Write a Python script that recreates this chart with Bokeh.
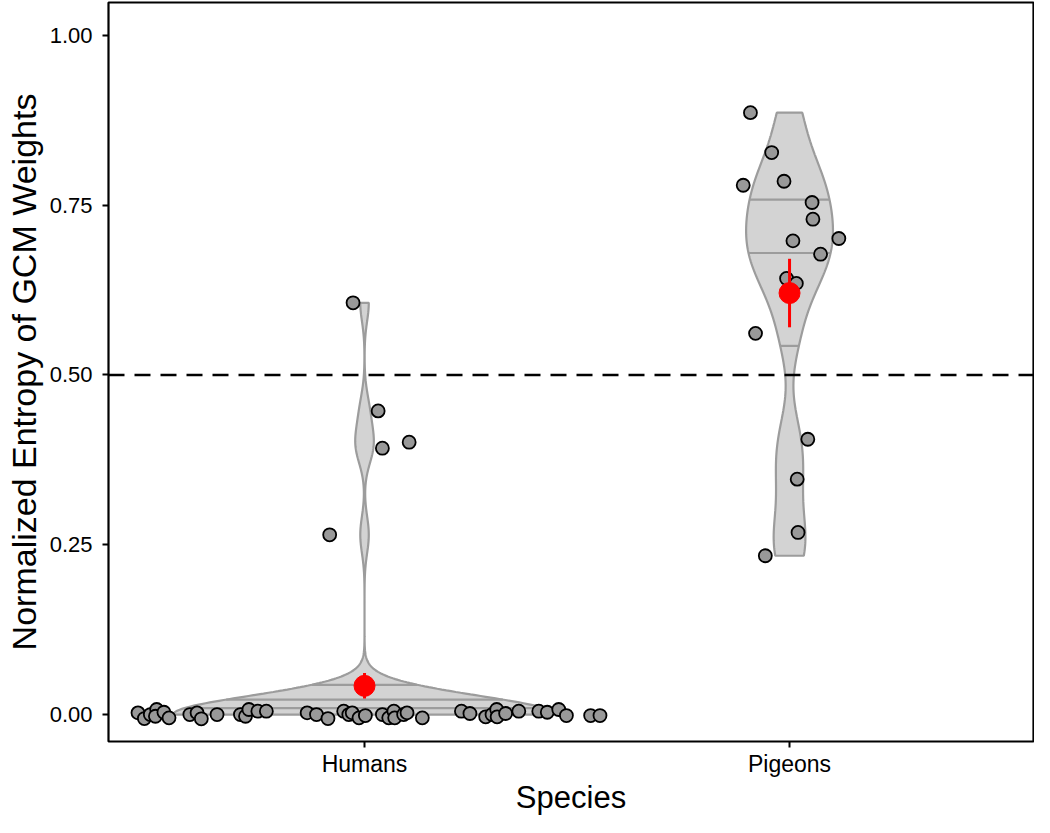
import numpy as np
from bokeh.plotting import figure
from bokeh.models import Range1d, FixedTicker, Span
from bokeh.embed import file_html
from bokeh.resources import INLINE

# ---------------- data ----------------
species = ["Humans", "Pigeons"]

human_values = [0.6063, 0.4471, 0.3922, 0.4010, 0.2647,
                0.0, 0.0, 0.0, 0.0, 0.0, 0.0, 0.0, 0.0, 0.0, 0.0,
                0.0, 0.0, 0.0, 0.0, 0.0, 0.0, 0.0, 0.0, 0.0, 0.0,
                0.0, 0.0, 0.0, 0.0, 0.0, 0.0, 0.0, 0.0, 0.0, 0.0,
                0.0, 0.0, 0.0, 0.0, 0.0, 0.0, 0.0, 0.0, 0.0, 0.0,
                0.0, 0.0, 0.0, 0.0, 0.0]
human_jitter_x = [-0.027, 0.032, 0.042, 0.105, -0.082,
                  -0.533, -0.518, -0.504, -0.489, -0.492, -0.472, -0.460, -0.411, -0.394, -0.384,
                  -0.347, -0.292, -0.280, -0.272, -0.251, -0.231, -0.135, -0.113, -0.086, -0.049,
                  -0.037, -0.029, -0.013, 0.002, 0.042, 0.057, 0.069, 0.071, 0.092, 0.100,
                  0.136, 0.228, 0.248, 0.285, 0.300, 0.311, 0.312, 0.332, 0.363, 0.410,
                  0.430, 0.457, 0.475, 0.532, 0.554]
human_jitter_y = [0.0, 0.0, 0.0, 0.0, 0.0,
                  0.0025, -0.0059, 0.0, 0.0074, -0.0025, 0.0034, -0.0049, 0.0, 0.0025, -0.0063,
                  0.0, 0.0, -0.0025, 0.0074, 0.0049, 0.0049, 0.0025, 0.0, -0.0059, 0.0049,
                  0.0, 0.0025, -0.0049, -0.0015, 0.0, -0.0049, 0.0049, -0.0049, 0.0, 0.0025,
                  -0.0049, 0.0049, 0.0015, -0.0034, 0.0, 0.0074, -0.0034, 0.0015, 0.0049, 0.0049,
                  0.0034, 0.0074, -0.0015, -0.0015, -0.0015]

pigeon_values = [0.8863, 0.8275, 0.7794, 0.7853, 0.7540, 0.7294, 0.6975, 0.7010,
                 0.6779, 0.6422, 0.6349, 0.5613, 0.4054, 0.3466, 0.2681, 0.2338]
pigeon_jitter_x = [-0.092, -0.042, -0.109, -0.013, 0.053, 0.055, 0.008, 0.116,
                   0.073, -0.007, 0.016, -0.080, 0.043, 0.018, 0.020, -0.057]

y_ticks = [0.0, 0.25, 0.5, 0.75, 1.0]
y_tick_labels = ["0.00", "0.25", "0.50", "0.75", "1.00"]
reference_line = 0.5
quantiles = [0.25, 0.5, 0.75]

# ---------------- helpers ----------------
def bw_nrd0(x):
    x = np.asarray(x, float)
    hi = np.std(x, ddof=1)
    q75, q25 = np.percentile(x, [75, 25])
    lo = min(hi, (q75 - q25) / 1.34)
    if lo == 0:
        lo = hi
    return 0.9 * lo * len(x) ** -0.2


def density(x, adjust=0.5, n=512):
    x = np.asarray(x, float)
    bw = bw_nrd0(x) * adjust
    grid = np.linspace(x.min(), x.max(), n)
    d = np.exp(-0.5 * ((grid[:, None] - x[None, :]) / bw) ** 2).sum(1)
    d /= len(x) * bw * np.sqrt(2 * np.pi)
    return grid, d


groups = [human_values, pigeon_values]
dens = [density(g) for g in groups]
gmax = max(d.max() for _, d in dens)
half_width = 0.45

VIOLIN_FILL = "#d3d3d3"
VIOLIN_LINE = "#9c9c9c"

p = figure(width=1034, height=817, output_backend="svg", toolbar_location=None,
           x_range=Range1d(0.3976, 2.574), y_range=Range1d(-0.0397, 1.0485),
           min_border_left=108, min_border_right=1, min_border_top=2, min_border_bottom=75)

for i, (grid, d) in enumerate(dens):
    c = i + 1
    hw = d / gmax * half_width
    xs = np.concatenate([c - hw, (c + hw)[::-1]])
    ys = np.concatenate([grid, grid[::-1]])
    p.patch(xs, ys, fill_color=VIOLIN_FILL, line_color=VIOLIN_LINE, line_width=2.2)
    cdf = np.cumsum(d) / np.sum(d)
    qy = np.interp(quantiles, cdf, grid)
    qw = np.interp(qy, grid, hw)
    p.segment(x0=c - qw, y0=qy, x1=c + qw, y1=qy, line_color=VIOLIN_LINE, line_width=2.2)

p.add_layout(Span(location=reference_line, dimension="width", line_color="black",
                  line_width=2.5, line_dash="16 10"))

hx = [1 + j for j in human_jitter_x]
hy = [v + j for v, j in zip(human_values, human_jitter_y)]
px = [2 + j for j in pigeon_jitter_x]
p.scatter(hx, hy, size=13, fill_color="#999999", line_color="black", line_width=1.8)
p.scatter(px, pigeon_values, size=13, fill_color="#999999", line_color="black", line_width=1.8)

for i, g in enumerate(groups):
    g = np.asarray(g, float)
    m = g.mean()
    se = g.std(ddof=1) / np.sqrt(len(g))
    p.segment(x0=[i + 1], y0=[m - se], x1=[i + 1], y1=[m + se], line_color="red", line_width=3)
    p.scatter([i + 1], [m], size=21, fill_color="red", line_color="red")

p.xgrid.visible = False
p.ygrid.visible = False
p.outline_line_color = "black"
p.outline_line_width = 2.2
p.outline_line_alpha = 1

p.xaxis.ticker = FixedTicker(ticks=[1, 2])
p.xaxis.major_label_overrides = {1: species[0], 2: species[1]}
p.yaxis.ticker = FixedTicker(ticks=y_ticks)
p.yaxis.major_label_overrides = {t: l for t, l in zip(y_ticks, y_tick_labels)}

for ax in (p.xaxis[0], p.yaxis[0]):
    ax.axis_line_color = None
    ax.major_tick_line_color = "black"
    ax.major_tick_line_width = 2
    ax.major_tick_out = 6
    ax.major_tick_in = 0
    ax.minor_tick_line_color = None
    ax.major_label_text_font = "Liberation Sans"
    ax.major_label_text_color = "black"
    ax.axis_label_text_font = "Liberation Sans"
    ax.axis_label_text_font_style = "normal"
    ax.axis_label_text_color = "black"

p.xaxis.axis_label = "Species"
p.yaxis.axis_label = "Normalized Entropy of GCM Weights"
p.xaxis.axis_label_text_font_size = "31px"
p.yaxis.axis_label_text_font_size = "34px"
p.xaxis.major_label_text_font_size = "23px"
p.yaxis.major_label_text_font_size = "22px"
p.xaxis.major_label_standoff = 3
p.yaxis.major_label_standoff = 10
p.xaxis.axis_label_standoff = 0
p.yaxis.axis_label_standoff = 4

open("out.html", "w").write(file_html(p, INLINE))
